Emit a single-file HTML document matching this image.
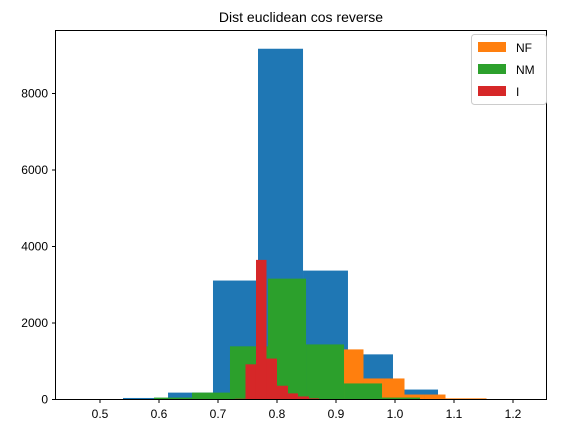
<!DOCTYPE html>
<html><head><meta charset="utf-8"><style>
body{margin:0;background:#fff;}
svg{display:block;font-family:"Liberation Sans","DejaVu Sans",sans-serif;}
</style></head><body>
<svg id="chart" width="561" height="433">
<text x="301" y="22" text-anchor="middle" font-size="14">Dist euclidean cos reverse</text>
<g id="bars"></g>
<rect x="55.5" y="30.5" width="491" height="369" fill="none" stroke="#000" stroke-width="1"/>
<g id="axes"></g>
<g>
<rect x="471.5" y="34.5" width="75" height="70" rx="3" fill="#fff" fill-opacity="0.8" stroke="#ccc"/>
<rect x="478" y="42" width="28" height="10" fill="#ff7f0e"/>
<text x="516" y="52" font-size="12">NF</text>
<rect x="478" y="64" width="28" height="10" fill="#2ca02c"/>
<text x="516" y="74" font-size="12">NM</text>
<rect x="478" y="86" width="28" height="10" fill="#d62728"/>
<text x="516" y="96" font-size="12">I</text>
</g>
</svg>
<script>
const blueEdges=[0.5390,0.6153,0.6915,0.7678,0.8441,0.9203,0.9966,1.0729,1.1492,1.2254];
const blueCounts=[40,180,3110,9170,3370,1180,260,10,2];
const nfEdges=[0.9119,0.9466,0.9814,1.0161,1.0508,1.0856,1.1203,1.1551];
const nfCounts=[1310,550,550,130,130,30,30];
const nmEdges=[0.5915,0.6559,0.7203,0.7847,0.8492,0.9136,0.9780,1.0424];
const nmCounts=[50,180,1390,3160,1440,420,50];
const iEdges=[0.7288,0.7466,0.7644,0.7822,0.8000,0.8186,0.8356,0.8542,0.8712];
const iCounts=[20,920,3650,1070,360,160,80,30];
const xTicks=[0.5,0.6,0.7,0.8,0.9,1.0,1.1,1.2];
const xTickLabels=["0.5","0.6","0.7","0.8","0.9","1.0","1.1","1.2"];
const yTicks=[0,2000,4000,6000,8000];
const yTickLabels=["0","2000","4000","6000","8000"];

const NS="http://www.w3.org/2000/svg";
function xs(v){return 100+(v-0.5)*590;}
function ys(v){return 399.5-v*0.03825;}
const bars=document.getElementById('bars');
function drawSeries(edges,counts,color,name){
  for(let i=0;i<counts.length;i++){
    const r=document.createElementNS(NS,'rect');
    const x0=xs(edges[i]),x1=xs(edges[i+1]);
    r.setAttribute('x',x0);r.setAttribute('width',x1-x0);
    r.setAttribute('y',ys(counts[i]));r.setAttribute('height',399.5-ys(counts[i]));
    r.setAttribute('fill',color);
    
    
    bars.appendChild(r);
  }
}
drawSeries(blueEdges,blueCounts,'#1f77b4','all');
drawSeries(nfEdges,nfCounts,'#ff7f0e','nf');
drawSeries(nmEdges,nmCounts,'#2ca02c','nm');
drawSeries(iEdges,iCounts,'#d62728','i');
const axes=document.getElementById('axes');
xTicks.forEach((t,i)=>{
  const x=xs(t);
  const l=document.createElementNS(NS,'line');
  l.setAttribute('x1',x);l.setAttribute('x2',x);l.setAttribute('y1',399.5);l.setAttribute('y2',403);
  l.setAttribute('stroke','#000');
  
  
  axes.appendChild(l);
  const tx=document.createElementNS(NS,'text');
  tx.setAttribute('x',x);tx.setAttribute('y',418);tx.setAttribute('text-anchor','middle');tx.setAttribute('font-size','12');
  tx.textContent=xTickLabels[i];
  
  
  axes.appendChild(tx);
});
yTicks.forEach((t,i)=>{
  const y=ys(t);
  const l=document.createElementNS(NS,'line');
  l.setAttribute('x1',52);l.setAttribute('x2',55.5);l.setAttribute('y1',y);l.setAttribute('y2',y);
  l.setAttribute('stroke','#000');
  
  
  axes.appendChild(l);
  const tx=document.createElementNS(NS,'text');
  tx.setAttribute('x',48);tx.setAttribute('y',y+4);tx.setAttribute('text-anchor','end');tx.setAttribute('font-size','12');
  tx.textContent=yTickLabels[i];
  
  
  axes.appendChild(tx);
});
</script>
</body></html>
